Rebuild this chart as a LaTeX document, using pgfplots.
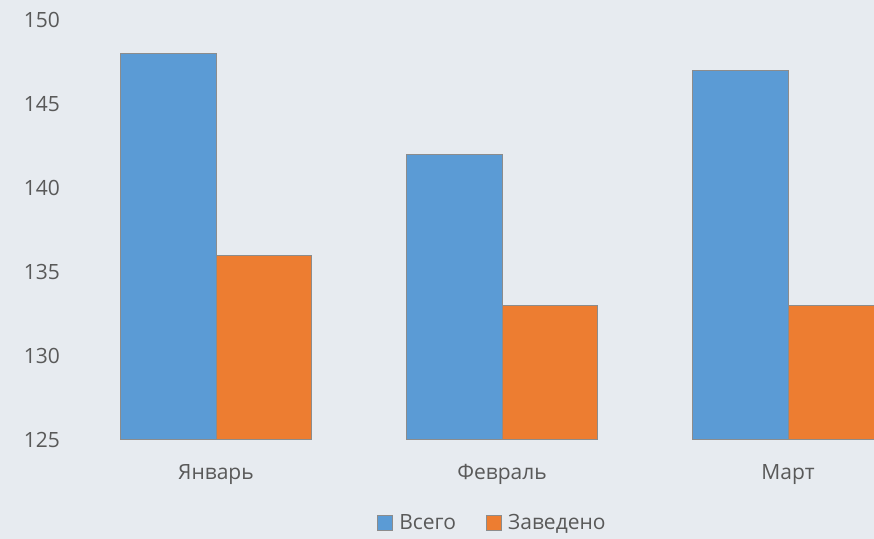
\documentclass[border=0pt]{standalone}
\usepackage{fontspec}
\setmainfont{Open Sans}
\usepackage{pgfplots}
\pgfplotsset{compat=1.18}
\definecolor{bg}{HTML}{E7EBF0}
\definecolor{cblue}{HTML}{5B9BD5}
\definecolor{corange}{HTML}{ED7D31}
\definecolor{txt}{HTML}{595959}
\definecolor{edge}{HTML}{8C8C8C}
\begin{document}
\begin{tikzpicture}
\fill[bg] (0,0) rectangle (437pt,269.5pt);
\begin{scope}
\clip (0,0) rectangle (437pt,269.5pt);
\begin{axis}[
  at={(36.5pt,49.5pt)}, anchor=south west,
  scale only axis, width=429pt, height=210pt,
  xmin=-0.5, xmax=2.5, ymin=125, ymax=150,
  ytick={125,130,...,150},
  xtick={0,1,2},
  xticklabels={Январь,Февраль,Март},
  axis line style={draw=none},
  major tick length=0pt,
  tick style={draw=none},
  /pgf/number format/assume math mode=true,
  ticklabel style={font=\fontsize{10.5}{12}\selectfont, text=txt},
  yticklabel style={anchor=east, xshift=-3pt},
  xticklabel style={yshift=-8.5pt},
  ybar=0pt, bar width=0.334,
  legend style={at={(axis description cs:0.49,-0.199)}, anchor=center,
    draw=none, fill=none, legend columns=2,
    font=\fontsize{10.5}{12}\selectfont, text=txt,
    /tikz/every odd column/.append style={column sep=1pt},
    /tikz/every even column/.append style={column sep=13pt}},
  legend image code/.code={\draw[#1] (0pt,-3.5pt) rectangle (7.5pt,4pt);},
]
\addplot[fill=cblue, draw=edge, line width=0.5pt] coordinates {(0,148) (1,142) (2,147)};
\addplot[fill=corange, draw=edge, line width=0.5pt] coordinates {(0,136) (1,133) (2,133)};
\legend{Всего,Заведено}
\end{axis}
\end{scope}
\pgfresetboundingbox
\useasboundingbox (0,0) rectangle (437pt,269.5pt);
\end{tikzpicture}
\end{document}
